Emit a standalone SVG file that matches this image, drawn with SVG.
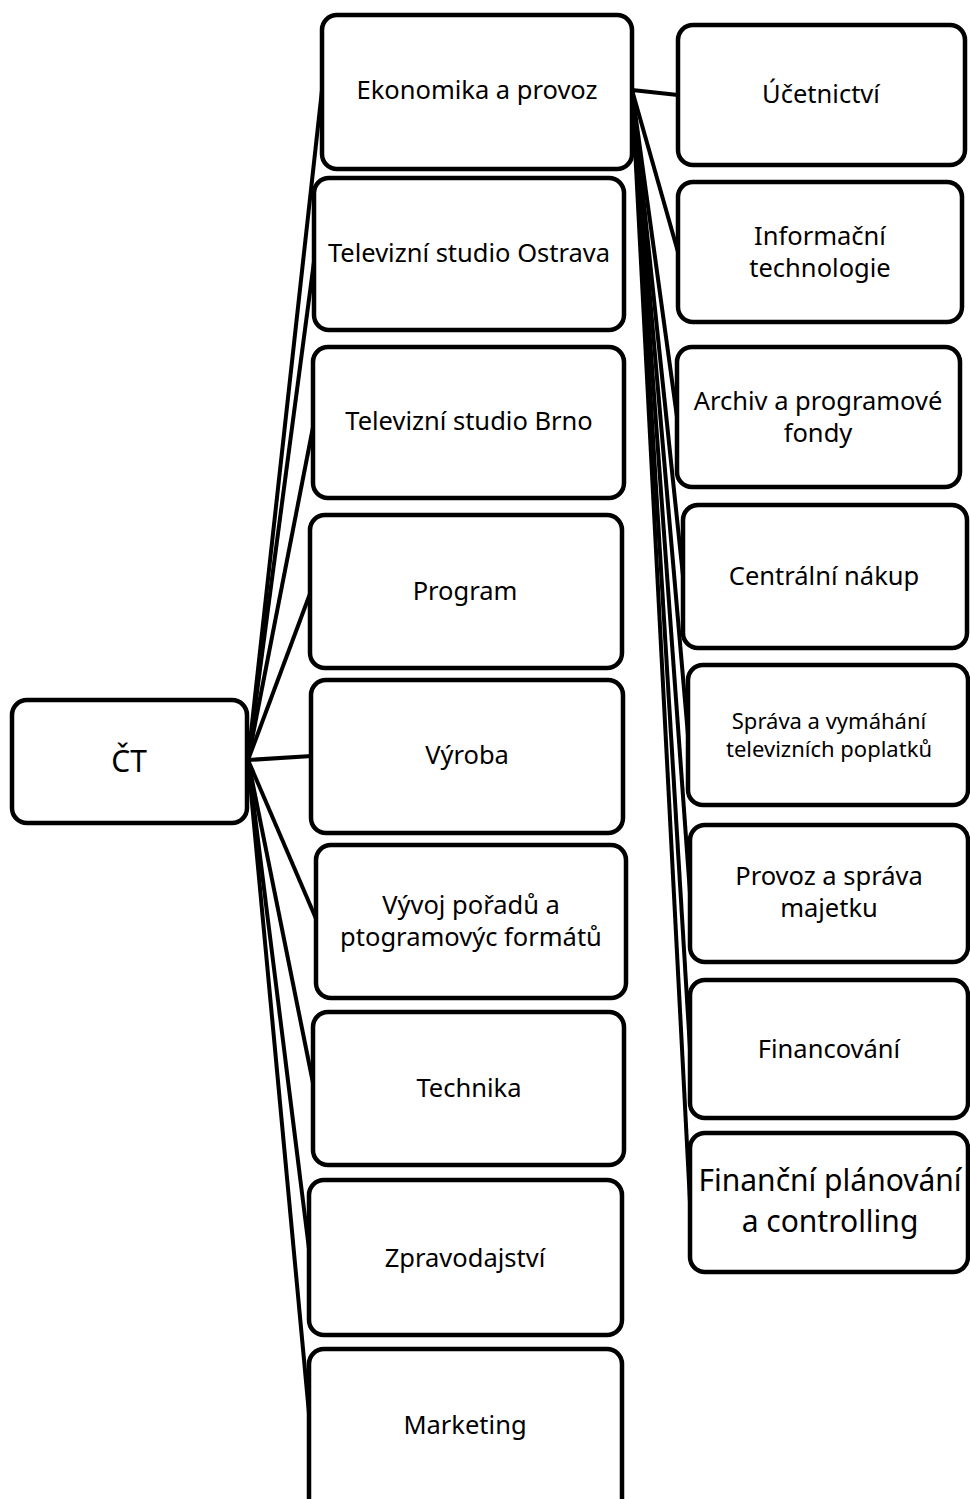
<svg xmlns="http://www.w3.org/2000/svg" width="970" height="1499" viewBox="0 0 970 1499">
<style>
.box{fill:#fff;stroke:#000;stroke-width:4.5}
.ln{stroke:#000;stroke-width:4;fill:none}
text{font-family:"Noto Sans","Open Sans",sans-serif;font-size:25.5px;fill:#000;text-anchor:middle}
.s{font-size:22px}
.l{font-size:30px}
.c{font-size:30px}
</style>
<rect width="970" height="1499" fill="#fff"/>
<g id="connectors">
<line class="ln" x1="248" y1="760" x2="322" y2="90"/>
<line class="ln" x1="248" y1="760" x2="315" y2="254"/>
<line class="ln" x1="248" y1="760" x2="314" y2="422"/>
<line class="ln" x1="248" y1="760" x2="311" y2="591"/>
<line class="ln" x1="248" y1="760" x2="312" y2="756"/>
<line class="ln" x1="248" y1="760" x2="317" y2="921"/>
<line class="ln" x1="248" y1="760" x2="314" y2="1088"/>
<line class="ln" x1="248" y1="760" x2="310" y2="1257"/>
<line class="ln" x1="248" y1="760" x2="310" y2="1424"/>
<line class="ln" x1="632" y1="90" x2="678" y2="95"/>
<line class="ln" x1="632" y1="90" x2="678" y2="252"/>
<line class="ln" x1="632" y1="90" x2="677" y2="417"/>
<line class="ln" x1="632" y1="90" x2="683" y2="576"/>
<line class="ln" x1="632" y1="90" x2="688" y2="735"/>
<line class="ln" x1="632" y1="90" x2="690" y2="893"/>
<line class="ln" x1="632" y1="90" x2="690" y2="1049"/>
<line class="ln" x1="632" y1="90" x2="690" y2="1202"/>
</g>
<g id="ct"><rect class="box" x="12" y="700" width="235" height="123" rx="15"/><text class="c" x="129" y="772">ČT</text></g>
<g id="ekonomika"><rect class="box" x="322" y="15" width="310" height="154" rx="15"/><text x="477" y="99">Ekonomika a provoz</text></g>
<g id="ostrava"><rect class="box" x="314" y="178" width="310" height="152" rx="15"/><text x="469" y="262">Televizní studio Ostrava</text></g>
<g id="brno"><rect class="box" x="313" y="347" width="311" height="151" rx="15"/><text x="469" y="430">Televizní studio Brno</text></g>
<g id="program"><rect class="box" x="310" y="515" width="312" height="153" rx="15"/><text x="465" y="600">Program</text></g>
<g id="vyroba"><rect class="box" x="311" y="680" width="312" height="153" rx="15"/><text x="467" y="764">Výroba</text></g>
<g id="vyvoj"><rect class="box" x="316" y="845" width="310" height="153" rx="15"/><text x="471" y="914">Vývoj pořadů a</text><text x="471" y="946">ptogramovýc formátů</text></g>
<g id="technika"><rect class="box" x="313" y="1012" width="311" height="153" rx="15"/><text x="469" y="1097">Technika</text></g>
<g id="zpravodajstvi"><rect class="box" x="309" y="1180" width="313" height="155" rx="15"/><text x="465" y="1267">Zpravodajství</text></g>
<g id="marketing"><rect class="box" x="309" y="1349" width="313" height="165" rx="15"/><text x="465" y="1434">Marketing</text></g>
<g id="ucetnictvi"><rect class="box" x="678" y="25" width="287" height="140" rx="15"/><text x="821" y="103">Účetnictví</text></g>
<g id="it"><rect class="box" x="678" y="182" width="284" height="140" rx="15"/><text x="820" y="245">Informační</text><text x="820" y="277">technologie</text></g>
<g id="archiv"><rect class="box" x="677" y="347" width="283" height="140" rx="15"/><text x="818" y="410">Archiv a programové</text><text x="818" y="442">fondy</text></g>
<g id="nakup"><rect class="box" x="683" y="505" width="284" height="143" rx="15"/><text x="824" y="585">Centrální nákup</text></g>
<g id="poplatky"><rect class="box" x="688" y="665" width="280" height="140" rx="15"/><text class="s" x="829" y="729">Správa a vymáhání</text><text class="s" x="829" y="757">televizních poplatků</text></g>
<g id="majetek"><rect class="box" x="690" y="825" width="278" height="137" rx="15"/><text x="829" y="885">Provoz a správa</text><text x="829" y="917">majetku</text></g>
<g id="financovani"><rect class="box" x="690" y="980" width="278" height="138" rx="15"/><text x="829" y="1058">Financování</text></g>
<g id="planovani"><rect class="box" x="690" y="1133" width="278" height="139" rx="15"/><text class="l" x="830" y="1191">Finanční plánování</text><text class="l" x="830" y="1232">a controlling</text></g>
</svg>
